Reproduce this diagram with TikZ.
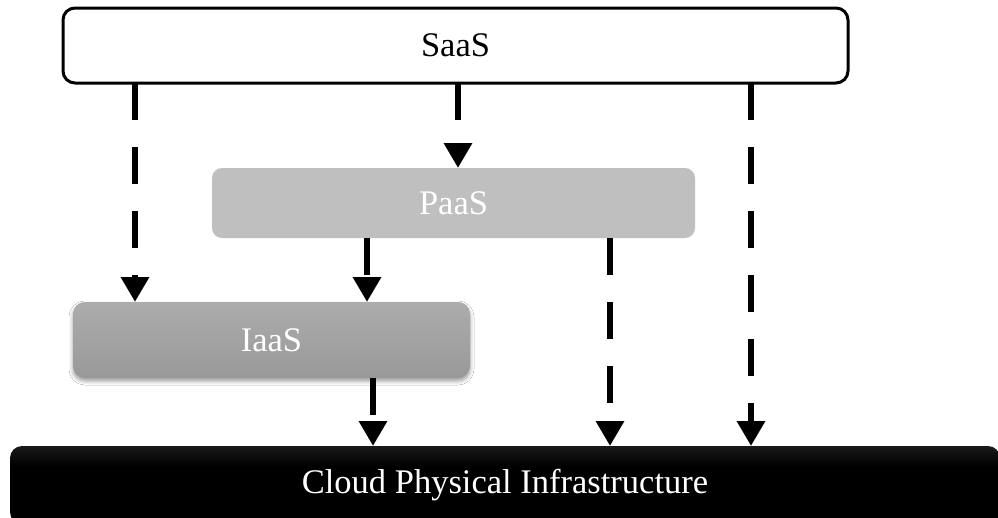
\documentclass[tikz,border=0pt]{standalone}
\usepackage{fontspec}
\setmainfont{Liberation Serif}
\usetikzlibrary{arrows.meta,shadows.blur}
\definecolor{paasgray}{HTML}{BFBFBF}
\definecolor{iaastop}{HTML}{ACACAC}
\definecolor{iaasbot}{HTML}{999999}
\pgfdeclareverticalshading{cloudshade}{100bp}{color(0bp)=(black); color(62bp)=(black); color(100bp)=(black!70)}
\begin{document}
\begin{tikzpicture}[x=1pt,y=-1pt,
  box/.style={rectangle, rounded corners=12pt, inner sep=0pt, outer sep=0pt,
              font=\fontsize{34.5}{40}\selectfont},
  arr/.style={line width=6.5pt, dash pattern=on 37pt off 27pt,
              -{Triangle[width=27pt,length=25pt]}}]
\useasboundingbox (0,0) rectangle (998,517);
\clip (0,0) rectangle (998,517);
\fill[white] (0,0) rectangle (998,517);

\node[box, draw=black, line width=3pt, fill=white,
      minimum width=785pt, minimum height=75pt] (saas) at (455.5,45.5) {SaaS};
\node[box, rounded corners=10pt, fill=paasgray, text=white,
      minimum width=483pt, minimum height=70pt] (paas) at (453.5,203) {PaaS};
\node[box, top color=iaastop, bottom color=iaasbot, text=white,
      blur shadow={shadow xshift=0pt, shadow yshift=-3pt, shadow blur radius=4pt, shadow opacity=40},
      minimum width=397pt, minimum height=76pt] (iaas) at (271.5,340) {IaaS};
\node[box, shading=cloudshade, text=white, minimum width=990pt, minimum height=78pt]
      (cloud) at (505,485) {Cloud Physical Infrastructure};

\coordinate (x1) at (135,0);
\coordinate (x2) at (458,0);
\coordinate (x3) at (751,0);
\coordinate (x4) at (367,0);
\coordinate (x5) at (610,0);
\coordinate (x6) at (373,0);

\draw[arr] (saas.south -| x1) -- (iaas.north -| x1);
\draw[arr] (saas.south -| x2) -- (paas.north -| x2);
\draw[arr] (saas.south -| x3) -- (cloud.north -| x3);
\draw[arr] (paas.south -| x4) -- (iaas.north -| x4);
\draw[arr] (paas.south -| x5) -- (cloud.north -| x5);
\draw[arr] (iaas.south -| x6) -- (cloud.north -| x6);
\end{tikzpicture}
\end{document}
